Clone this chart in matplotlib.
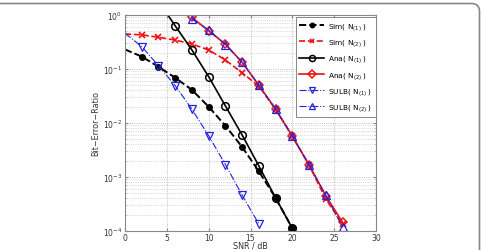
import matplotlib
matplotlib.use("Agg")
import matplotlib.pyplot as plt
from matplotlib.path import Path
from matplotlib.patches import PathPatch
import numpy as np

snr_sim = [0, 2, 4, 6, 8, 10, 12, 14, 16, 18, 20]
sim_n1 = [0.23, 0.17, 0.11, 0.069, 0.041, 0.020, 0.0089, 0.0036, 0.00127, 0.00041, 0.000112]

snr_sim2 = [0, 2, 4, 6, 8, 10, 12, 14, 16, 18, 20, 22, 24, 26]
sim_n2 = [0.445, 0.43, 0.386, 0.344, 0.29, 0.225, 0.147, 0.085, 0.048, 0.018, 0.0057, 0.00167, 0.00039, 0.000135]

snr_ana1 = [4, 6, 8, 10, 12, 14, 16, 18, 20]
ana_n1 = [1.8, 0.63, 0.225, 0.072, 0.0207, 0.006, 0.0016, 0.00041, 0.000112]

snr_ana2 = [8, 10, 12, 14, 16, 18, 20, 22, 24, 26]
ana_n2 = [0.9, 0.51, 0.29, 0.133, 0.05, 0.018, 0.0057, 0.00167, 0.00045, 0.000145]

snr_sulb1 = [0, 2, 4, 6, 8, 10, 12, 14, 16]
sulb_n1 = [0.46, 0.26, 0.115, 0.049, 0.018, 0.0058, 0.0017, 0.00046, 0.000135]

snr_sulb2 = [8, 10, 12, 14, 16, 18, 20, 22, 24, 26]
sulb_n2 = [0.84, 0.53, 0.28, 0.133, 0.05, 0.018, 0.0057, 0.00167, 0.00046, 0.000117]

labels = [r"Sim( N$_{(1)}$ )", r"Sim( N$_{(2)}$ )", r"Ana( N$_{(1)}$ )",
          r"Ana( N$_{(2)}$ )", r"SULB( N$_{(1)}$ )", r"SULB( N$_{(2)}$ )"]
xticks = [0, 5, 10, 15, 20, 25, 30]

plt.rcParams['font.family'] = ['DejaVu Sans']
W, H = 482, 251
fig = plt.figure(figsize=(W / 100, H / 100), dpi=100)
ax = fig.add_axes([125 / W, 1 - 232 / H, 251 / W, 216 / H])

red = '#ee1111'
blue = '#2222dd'
ms = 4.5
ax.semilogy(snr_sim, sim_n1, '--', color='black', lw=1.4, marker='o', ms=ms - 0.5,
            markevery=slice(1, None), label=labels[0])
ax.semilogy(snr_sim2, sim_n2, '--', color=red, lw=1.2, marker='x', ms=ms - 0.5, mew=1.2,
            markevery=slice(1, None), label=labels[1])
ax.semilogy(snr_ana1, ana_n1, '-', color='black', lw=1.2, marker='o', ms=ms + 1,
            mfc='none', mew=1.1, label=labels[2])
ax.semilogy(snr_ana2, ana_n2, '-', color=red, lw=1.2, marker='D', ms=ms, mfc='none',
            mew=1.1, label=labels[3])
ax.semilogy(snr_sulb1, sulb_n1, '-.', color=blue, lw=0.8, marker='v', ms=ms + 1, mfc='none',
            mew=0.9, markevery=slice(1, None), label=labels[4])
ax.semilogy(snr_sulb2, sulb_n2, '-.', color=blue, lw=0.8, marker='^', ms=ms + 1, mfc='none',
            mew=0.9, label=labels[5])

ax.set_xlim(0, 30)
ax.set_ylim(1e-4, 1)
ax.set_xticks(xticks)
ax.grid(True, which='major', ls=':', color='#aaaaaa', lw=0.6)
ax.grid(True, which='minor', axis='y', ls=':', color='#bbbbbb', lw=0.5)
for s in ax.spines.values():
    s.set_color('#888888')
    s.set_linewidth(0.8)
ax.tick_params(which='both', direction='in', length=2, color='#888888',
               labelsize=5.5, labelcolor='#333333', top=True, right=True, pad=2)
ax.tick_params(axis='x', pad=1.5)
ax.tick_params(which='minor', length=1)
ax.set_xlabel('SNR / dB', fontsize=5.8, color='#333333', labelpad=-0.8)
ax.set_ylabel('Bit\u2212Error\u2212Ratio', fontsize=5.8, color='#333333', labelpad=2)

leg = ax.legend(loc='upper right', bbox_to_anchor=(1.0, 0.99), fontsize=5.3,
                frameon=True, fancybox=False, edgecolor='#888888', framealpha=1,
                handlelength=3.3, labelspacing=0.75, borderpad=0.5, handletextpad=0.6,
                borderaxespad=0.0, markerscale=0.8)
leg.get_frame().set_linewidth(0.7)

# outer frame: top edge and right edge with rounded corner (pixel coords)
r = 8
top = H - 4.5
right = 479.5
verts = [(-5, top), (right - r, top), (right, top), (right, top - r), (right, -5)]
codes = [Path.MOVETO, Path.LINETO, Path.CURVE3, Path.CURVE3, Path.LINETO]
frame = PathPatch(Path(verts, codes), transform=None, fill=False,
                  edgecolor='#888888', lw=1.2)
fig.patches.append(frame)

fig.savefig('out.png', dpi=100)
